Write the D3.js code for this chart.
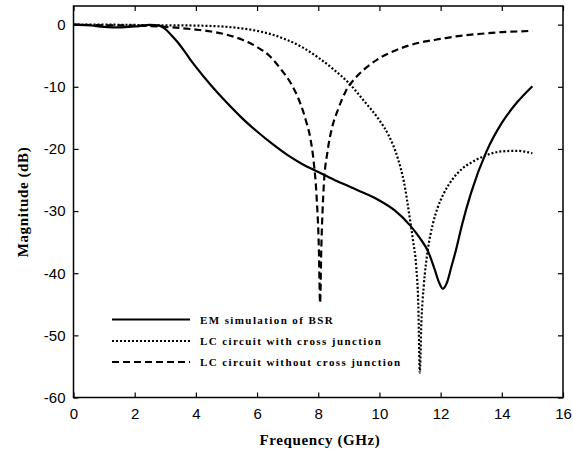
<!DOCTYPE html>
<html>
<head>
    <meta charset="utf-8">
    <title>Magnitude vs Frequency</title>
    <script src="https://cdnjs.cloudflare.com/ajax/libs/d3/7.8.5/d3.min.js"></script>
    <style>
        body { margin: 0; background: #fff; }
        svg { display: block; }
        .tick text { font-family: 'Liberation Sans', Arial, sans-serif; font-size: 15px; fill: #000; }
        .axisTitle { font-family: 'Liberation Serif', 'Times New Roman', serif; font-weight: bold; font-size: 15px; letter-spacing: 0.6px; }
        .legendText { font-family: 'Liberation Serif', 'Times New Roman', serif; font-weight: bold; font-size: 11px; letter-spacing: 1.4px; }
    </style>
</head>
<body>
<svg id="chart" width="573" height="453"></svg>
<script>
    // EM simulation of BSR (solid)
    var emFreq = [0, 0.5, 1, 1.5, 2, 2.5, 2.8, 3.0, 3.2, 3.4, 3.6, 3.8, 4.0, 4.5, 5.0, 5.5, 6.0, 6.5, 7.0, 7.5, 8.0, 8.5, 9.0, 9.5, 10.0, 10.5, 11.0, 11.3, 11.6, 11.8, 11.95, 12.07, 12.2, 12.35, 12.5, 12.7, 13.0, 13.5, 14.0, 14.5, 15.0];
    var emMag  = [0, -0.1, -0.35, -0.45, -0.3, -0.05, -0.15, -0.7, -1.7, -2.8, -4.1, -5.5, -6.8, -9.8, -12.5, -15, -17.2, -19.2, -21, -22.5, -23.7, -24.9, -26, -27.1, -28.3, -29.9, -32.3, -34.2, -36.6, -39.3, -41.5, -42.5, -41.6, -39, -36.3, -32.2, -27, -20.4, -15.8, -12.5, -9.9];

    // LC circuit with cross junction (dotted)
    var lcxFreq = [0, 1, 2, 3, 4, 5, 6, 6.5, 7, 7.5, 8, 8.5, 9, 9.5, 10, 10.3, 10.6, 10.8, 11.0, 11.1, 11.2, 11.27, 11.32, 11.37, 11.45, 11.58, 11.75, 11.9, 12.1, 12.4, 12.7, 13.0, 13.5, 14.0, 14.5, 15.0];
    var lcxMag  = [0, 0, -0.05, -0.1, -0.15, -0.35, -1.0, -1.6, -2.5, -3.7, -5.3, -7.2, -9.4, -12.3, -15.4, -17.8, -21.5, -25.3, -31.4, -34.8, -38.8, -45, -56, -48, -42, -36.3, -32, -29.5, -27.2, -24.8, -23.2, -22.2, -21, -20.4, -20.3, -20.7];

    // LC circuit without cross junction (dashed)
    var lcFreq = [0, 1, 2, 3, 4, 4.5, 5, 5.5, 6, 6.4, 6.8, 7.1, 7.4, 7.6, 7.75, 7.85, 7.95, 8.02, 8.06, 8.1, 8.18, 8.3, 8.45, 8.65, 8.9, 9.25, 9.6, 10.0, 10.5, 11.0, 11.5, 12.0, 12.5, 13.0, 13.5, 14.0, 14.5, 15.0];
    var lcMag  = [0, -0.1, -0.15, -0.35, -0.8, -1.1, -1.6, -2.4, -3.6, -5, -7.3, -9.4, -12.5, -15.5, -18.5, -22, -28, -36, -44.8, -36, -26, -20.5, -16.6, -13.6, -10.7, -8.4, -6.8, -5.4, -4.2, -3.3, -2.7, -2.3, -1.9, -1.6, -1.4, -1.2, -1.1, -1.0];

    var xTicks = [0, 2, 4, 6, 8, 10, 12, 14, 16];
    var yTicks = [0, -10, -20, -30, -40, -50, -60];

    var legendNames = ["EM simulation of BSR", "LC circuit with cross junction", "LC circuit without cross junction"];

    var svg = d3.select("#chart");
    var pLeft = 73.5, pRight = 563, pTop = 6, pBottom = 397.5;

    var xScale = d3.scaleLinear().domain([0, 16]).range([pLeft, pRight]);
    var yScale = d3.scaleLinear().domain([-60, 3]).range([pBottom, pTop]);

    // frame
    svg.append("rect")
        .attr("x", pLeft).attr("y", pTop)
        .attr("width", pRight - pLeft).attr("height", pBottom - pTop)
        .attr("fill", "none").attr("stroke", "#000").attr("stroke-width", 1.5);

    // bottom axis with labels, ticks inward
    svg.append("g")
        .attr("transform", `translate(0,${pBottom})`)
        .call(d3.axisBottom(xScale).tickValues(xTicks).tickSize(-5).tickPadding(11).tickFormat(d => String(d)))
        .call(g => g.select(".domain").remove())
        .call(g => g.selectAll("line").attr("stroke-width", 1.2));

    // top mirror ticks
    svg.append("g")
        .attr("transform", `translate(0,${pTop})`)
        .call(d3.axisTop(xScale).tickValues(xTicks).tickSize(-5).tickFormat(""))
        .call(g => g.select(".domain").remove())
        .call(g => g.selectAll("line").attr("stroke-width", 1.2));

    // left axis
    svg.append("g")
        .attr("transform", `translate(${pLeft},0)`)
        .call(d3.axisLeft(yScale).tickValues(yTicks).tickSize(-5).tickPadding(8).tickFormat(d => String(d)))
        .call(g => g.select(".domain").remove())
        .call(g => g.selectAll("line").attr("stroke-width", 1.2));

    // right mirror ticks
    svg.append("g")
        .attr("transform", `translate(${pRight},0)`)
        .call(d3.axisRight(yScale).tickValues(yTicks).tickSize(-5).tickFormat(""))
        .call(g => g.select(".domain").remove())
        .call(g => g.selectAll("line").attr("stroke-width", 1.2));

    svg.append("clipPath").attr("id", "clip")
        .append("rect").attr("x", pLeft).attr("y", pTop).attr("width", pRight - pLeft).attr("height", pBottom - pTop);

    var line = d3.line()
        .x(d => xScale(d[0]))
        .y(d => yScale(d[1]))
        .curve(d3.curveMonotoneX);

    var series = [
        { f: emFreq, m: emMag, dash: null },
        { f: lcxFreq, m: lcxMag, dash: "2,2" },
        { f: lcFreq, m: lcMag, dash: "7,4" }
    ];

    series.forEach(function(s) {
        var pts = s.f.map((f, i) => [f, s.m[i]]);
        svg.append("path")
            .attr("d", line(pts))
            .attr("fill", "none")
            .attr("stroke", "#000")
            .attr("stroke-width", 2.2)
            .attr("stroke-dasharray", s.dash)
            .attr("clip-path", "url(#clip)");
    });

    // legend
    var legendY = [319.5, 341, 362];
    legendNames.forEach(function(name, i) {
        svg.append("line")
            .attr("x1", 112).attr("x2", 190)
            .attr("y1", legendY[i]).attr("y2", legendY[i])
            .attr("stroke", "#000").attr("stroke-width", 2.2)
            .attr("stroke-dasharray", series[i].dash);
        svg.append("text")
            .attr("class", "legendText")
            .attr("x", 200).attr("y", legendY[i] + 4)
            .text(name);
    });

    // axis titles
    svg.append("text")
        .attr("class", "axisTitle")
        .attr("x", 320).attr("y", 445)
        .attr("text-anchor", "middle")
        .text("Frequency (GHz)");

    svg.append("text")
        .attr("class", "axisTitle")
        .attr("transform", "translate(28,202) rotate(-90)")
        .attr("text-anchor", "middle")
        .text("Magnitude (dB)");
</script>
</body>
</html>
